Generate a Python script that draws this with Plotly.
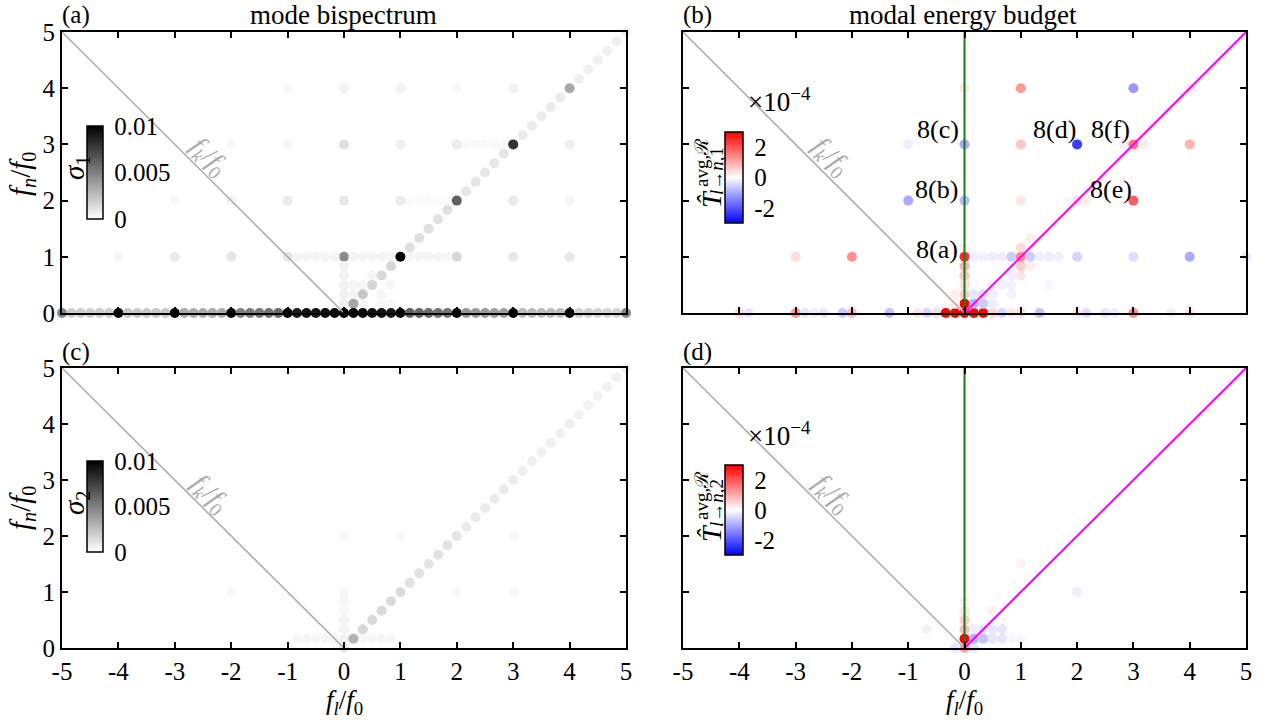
import plotly.graph_objects as go

W, H = 1268, 721
FONT = "Liberation Serif"
RES = 6  # frequency resolution: grid points at (k/6, j/6) in units of f0

# ================= (a) sigma_1  (units of 1e-3) =================
a_row0_k = list(range(-30, 31))
a_row0_val = [4.7, 2.0, 2.0, 2.0, 2.0, 2.0, 12,
              2.2, 2.2, 2.2, 2.2, 2.2, 12,
              3.3, 3.3, 3.3, 3.3, 3.3, 12,
              5.0, 5.2, 5.3, 5.5, 5.8, 12,
              9.0, 9.2, 9.3, 9.5, 9.7, 12,
              9.7, 9.5, 9.3, 9.2, 9.0, 12,
              6.2, 6.0, 5.8, 5.6, 5.4, 12,
              4.2, 4.0, 4.0, 3.8, 3.8, 12,
              2.7, 2.7, 2.6, 2.6, 2.6, 12,
              1.9, 1.9, 1.8, 1.8, 1.8, 4.7]
a_diag_j = list(range(1, 31))
a_diag_val = [3.5, 2.2, 1.6, 1.5, 1.6, 10.5,
              1.2, 1.2, 1.2, 1.2, 1.2, 6.2,
              1.0, 1.0, 1.0, 1.0, 1.0, 8.0,
              0.8, 0.8, 0.8, 0.8, 0.8, 3.4,
              0.6, 0.6, 0.6, 0.6, 0.6, 0.6]
a_pts_k = [-24, -18, -12, -6, 0, 12, 18, 24,
           -5, -4, -3, -2, -1, 1, 2, 3, 4, 5, 7, 8, 9, 10, 11,
           -18, -12, -6, 0, 6, 18, 24, 7, 8, 9, 10, 11,
           -12, -6, 0, 6, 12, 24, 13, 14, 15, 16, 17,
           -6, 0, 6, 12, 18,
           0, 0, 0, 0, 0, 1, 2, 3, 1, 2, 4, 5, 4, 5]
a_pts_j = [6, 6, 6, 6, 6, 6, 6, 6,
           6, 6, 6, 6, 6, 6, 6, 6, 6, 6, 6, 6, 6, 6, 6,
           12, 12, 12, 12, 12, 12, 12, 12, 12, 12, 12, 12,
           18, 18, 18, 18, 18, 18, 18, 18, 18, 18, 18,
           24, 24, 24, 24, 24,
           1, 2, 3, 4, 5, 2, 3, 4, 3, 1, 1, 1, 2, 3]
a_pts_val = [0.4, 0.8, 1.0, 1.0, 4.5, 1.6, 0.9, 0.9,
             0.35, 0.35, 0.35, 0.35, 0.35, 0.4, 0.4, 0.4, 0.4, 0.4, 0.35, 0.35, 0.35, 0.35, 0.35,
             0.3, 0.5, 0.8, 0.9, 0.8, 0.8, 0.4, 0.2, 0.2, 0.2, 0.2, 0.2,
             0.3, 0.4, 1.2, 0.6, 0.7, 0.6, 0.25, 0.25, 0.25, 0.25, 0.25,
             0.3, 0.5, 0.5, 0.3, 0.5,
             0.6, 0.5, 0.5, 0.5, 0.5, 0.4, 0.4, 0.4, 0.4, 0.4, 0.3, 0.3, 0.3, 0.3]

# ================= (c) sigma_2  (units of 1e-3) =================
c_diag_j = list(range(1, 31))
c_diag_val = [3.0, 1.5, 1.5, 1.5, 1.5, 1.4,
              1.2, 1.1, 1.1, 1.1, 1.1, 1.0,
              0.8, 0.8, 0.8, 0.8, 0.8, 0.7,
              0.6, 0.6, 0.6, 0.6, 0.6, 0.6,
              0.5, 0.5, 0.5, 0.5, 0.5, 0.5]
c_pts_k = [0, 0, 0, 0, 0, 0, 0, -5, -4, -3, -2, -1, 2, 3, 4, 5, 6, 12, 0, 18, 18, -12, 12]
c_pts_j = [0, 1, 2, 3, 4, 5, 6, 1, 1, 1, 1, 1, 1, 1, 1, 1, 12, 6, 12, 12, 6, 6, 12]
c_pts_val = [1.0, 0.5, 0.45, 0.4, 0.35, 0.35, 0.35, 0.3, 0.3, 0.3, 0.35, 0.35, 0.35, 0.3, 0.3, 0.3,
             0.3, 0.3, 0.3, 0.3, 0.3, 0.3, 0.3]

# ================= (b) T_{l->n,1}  (units of 1e-4) =================
b_k = [-24, -23, -18, -17, -16, -15, -13, -12, -8, -5, -4, -3, -2, -1, 0, 1, 2, 3, 4, 5,
       6, 8, 12, 13, 15, 16, 18, 22, 24,
       0, 1, 2, 3, -1,
       0, 1, 2, 3, 5, -1,
       0, 3, 4, 5, 9,
       0, 5, 6,
       0, 6, 7,
       -18, -12, 0, 1, 2, 3, 4, 5, 6, 7, 8, 9, 10, 12, 18, 24, 30,
       6, 0, 7,
       -6, 0, 6, 12, 11, 13, 18,
       -6, 0, 6, 12, 17, 18, 19, 24,
       0, 6, 18, 24]
b_j = [0, 0, 0, 0, 0, 0, 0, 0, 0, 0, 0, 0, 0, 0, 0, 0, 0, 0, 0, 0,
       0, 0, 0, 0, 0, 0, 0, 0, 0,
       1, 1, 1, 1, 1,
       2, 2, 2, 2, 2, 2,
       3, 3, 3, 3, 3,
       4, 4, 4,
       5, 5, 5,
       6, 6, 6, 6, 6, 6, 6, 6, 6, 6, 6, 6, 6, 6, 6, 6, 6,
       7, 7, 8,
       12, 12, 12, 12, 12, 12, 12,
       18, 18, 18, 18, 18, 18, 18, 18,
       24, 24, 24, 24]
b_val = [0.4, -0.3, 1.2, -0.3, -0.2, -0.3, -0.6, 0.8, -0.7, 0.3, -0.5, 0.4, 3.0, 3.0, 3.0, 3.0, 3.0, 0.5, -0.5, 0.3,
         0.4, -0.7, 0.3, -0.4, -0.3, -0.2, 1.3, -0.2, 0.3,
         3.0, -0.9, -0.6, -0.2, 0.2,
         0.6, -0.3, -0.4, -0.2, -0.15, 0.2,
         0.4, -0.2, -0.2, -0.15, -0.1,
         0.7, -0.2, 0.3,
         0.9, 0.6, 0.2,
         0.4, 1.3, 2.5, -0.15, -0.15, -0.2, -0.2, -0.6, 1.4, -0.6, -0.2, -0.2, -0.15, -0.5, -0.4, -1.0, -0.25,
         0.4, 0.2, 0.2,
         -1.0, -0.8, 0.3, 0.4, -0.1, 0.2, 1.9,
         -0.2, -1.0, 0.7, -2.3, -0.15, 1.6, 0.2, 0.9,
         0.3, 1.2, -1.2, 0.3]

# ================= (d) T_{l->n,2}  (units of 1e-4) =================
d_k = [0, -1, 1, 0, 0, 0, 0, 0, 1, 2, 3, 4, 5, 2, 3, 4, -4, 1, 3, 12, 6, 6]
d_j = [0, 0, 0, 1, 2, 3, 4, 5, 1, 1, 1, 1, 1, 2, 2, 2, 2, 2, 4, 6, 1, 9]
d_val = [1.0, -0.3, -0.3, 3.0, 0.8, 0.6, 0.3, 0.2, -0.9, -0.7, -0.3, -0.3, -0.1, -0.3, -0.3, -0.3,
         -0.15, -0.2, 0.15, -0.2, -0.1, 0.15]

# reference lines (f_k = 0 line, f_n = f_l line, f_l = 0 line)
fk_line_x, fk_line_y = [-5, 0], [5, 0]
diag_line_x, diag_line_y = [0, 5], [0, 5]
vert_line_x, vert_line_y = [0, 0], [0, 5]

x_ticks = [-5, -4, -3, -2, -1, 0, 1, 2, 3, 4, 5]
x_ticktext = ["-5", "-4", "-3", "-2", "-1", "0", "1", "2", "3", "4", "5"]
y_ticks = [0, 1, 2, 3, 4, 5]

fig = go.Figure()


def dots(k, j, v, xa, ya, cax):
    return go.Scatter(x=[kk / RES for kk in k], y=[jj / RES for jj in j], mode="markers",
                      xaxis=xa, yaxis=ya, cliponaxis=False, hoverinfo="skip", showlegend=False,
                      marker=dict(size=10, color=v, coloraxis=cax, line=dict(width=0)))


def line(xs, ys, xa, ya, color, width):
    return go.Scatter(x=xs, y=ys, mode="lines", xaxis=xa, yaxis=ya, hoverinfo="skip",
                      showlegend=False, line=dict(color=color, width=width))


# panel (a)
fig.add_trace(dots(a_pts_k, a_pts_j, a_pts_val, "x", "y", "coloraxis"))
fig.add_trace(dots(a_diag_j, a_diag_j, a_diag_val, "x", "y", "coloraxis"))
fig.add_trace(dots(a_row0_k, [0] * len(a_row0_k), a_row0_val, "x", "y", "coloraxis"))
fig.add_trace(line(fk_line_x, fk_line_y, "x", "y", "#aaaaaa", 1.5))
# panel (b)
fig.add_trace(dots(b_k, b_j, b_val, "x2", "y2", "coloraxis2"))
fig.add_trace(line(fk_line_x, fk_line_y, "x2", "y2", "#aaaaaa", 1.5))
fig.add_trace(line(vert_line_x, vert_line_y, "x2", "y2", "#168016", 2))
fig.add_trace(line(diag_line_x, diag_line_y, "x2", "y2", "#ff00ff", 2))
# panel (c)
fig.add_trace(dots(c_pts_k, c_pts_j, c_pts_val, "x3", "y3", "coloraxis3"))
fig.add_trace(dots(c_diag_j, c_diag_j, c_diag_val, "x3", "y3", "coloraxis3"))
fig.add_trace(line(fk_line_x, fk_line_y, "x3", "y3", "#aaaaaa", 1.5))
# panel (d)
fig.add_trace(dots(d_k, d_j, d_val, "x4", "y4", "coloraxis4"))
fig.add_trace(line(fk_line_x, fk_line_y, "x4", "y4", "#aaaaaa", 1.5))
fig.add_trace(line(vert_line_x, vert_line_y, "x4", "y4", "#168016", 2))
fig.add_trace(line(diag_line_x, diag_line_y, "x4", "y4", "#ff00ff", 2))

tickfont = dict(family=FONT, size=25, color="black")
axcommon = dict(showline=True, linecolor="black", linewidth=2, mirror="ticks", ticks="inside",
                ticklen=6, tickwidth=1.5, tickcolor="black", showgrid=False, zeroline=False,
                tickfont=tickfont, automargin=False)

XL = [62 / W, 626 / W]
XR = [683 / W, 1246 / W]
YT = [1 - 313 / H, 1 - 32 / H]
YB = [1 - 648 / H, 1 - 368 / H]


def xax(dom, anchor, labels):
    return dict(domain=dom, anchor=anchor, range=[-5, 5], tickvals=x_ticks, ticktext=x_ticktext,
                showticklabels=labels, **axcommon)


def yax(dom, anchor, labels):
    return dict(domain=dom, anchor=anchor, range=[0, 5], tickvals=y_ticks,
                showticklabels=labels, **axcommon)


gray_scale = [[0, "#ffffff"], [1, "#000000"]]
bwr_scale = [[0, "#0000ff"], [0.5, "#ffffff"], [1, "#ff0000"]]


def cbar(x0, top, length, thick, tickvals, ticktext):
    return dict(x=x0 / W, xanchor="left", y=1 - top / H, yanchor="top", len=length, lenmode="pixels",
                thickness=thick, thicknessmode="pixels", xpad=0, ypad=0, outlinewidth=1.5,
                outlinecolor="black", tickvals=tickvals, ticktext=ticktext, ticks="outside",
                ticklen=6, tickcolor="rgba(0,0,0,0)", tickfont=tickfont)


fig.update_layout(
    width=W, height=H, margin=dict(l=0, r=0, t=0, b=0),
    paper_bgcolor="white", plot_bgcolor="white", showlegend=False,
    xaxis=xax(XL, "y", False), yaxis=yax(YT, "x", True),
    xaxis2=xax(XR, "y2", False), yaxis2=yax(YT, "x2", False),
    xaxis3=xax(XL, "y3", True), yaxis3=yax(YB, "x3", True),
    xaxis4=xax(XR, "y4", True), yaxis4=yax(YB, "x4", False),
    coloraxis=dict(cmin=0, cmax=10, colorscale=gray_scale,
                   colorbar=cbar(87, 126, 93, 16, [0, 5, 10], ["0", "0.005", "0.01"])),
    coloraxis3=dict(cmin=0, cmax=10, colorscale=gray_scale,
                    colorbar=cbar(87, 461, 91, 16, [0, 5, 10], ["0", "0.005", "0.01"])),
    coloraxis2=dict(cmin=-3, cmax=3, colorscale=bwr_scale,
                    colorbar=cbar(725, 132, 91, 18, [-2, 0, 2], ["-2", "0", "2"])),
    coloraxis4=dict(cmin=-3, cmax=3, colorscale=bwr_scale,
                    colorbar=cbar(725, 465, 90, 18, [-2, 0, 2], ["-2", "0", "2"])),
)


def ann(text, x, y, size=25, color="black", angle=0, xanchor="center", yanchor="middle"):
    return dict(text=text, x=x / W, y=1 - y / H, xref="paper", yref="paper", showarrow=False,
                font=dict(family=FONT, size=size, color=color), textangle=angle,
                xanchor=xanchor, yanchor=yanchor)


annots = [
    ann("(a)", 60, 15, xanchor="left"),
    ann("mode bispectrum", 343, 15, size=27),
    ann("(b)", 681, 15, xanchor="left"),
    ann("modal energy budget", 963, 15, size=27),
    ann("(c)", 60, 352, xanchor="left"),
    ann("(d)", 681, 352, xanchor="left"),
    ann("<i>f<sub>n</sub></i>/<i>f</i><sub>0</sub>", 22, 174, size=29, angle=-90),
    ann("<i>f<sub>n</sub></i>/<i>f</i><sub>0</sub>", 22, 508, size=29, angle=-90),
    ann("<i>f<sub>l</sub></i>/<i>f</i><sub>0</sub>", 344, 702, size=27),
    ann("<i>f<sub>l</sub></i>/<i>f</i><sub>0</sub>", 964, 702, size=27),
    ann("<i>σ</i><sub>1</sub>", 76, 168, size=29, angle=-90),
    ann("<i>σ</i><sub>2</sub>", 76, 503, size=29, angle=-90),
    # stacked colorbar label for (b): T-hat with super- and subscripts
    ann("<i>T̂</i>", 711, 199, size=28, angle=-90),
    ann("avg,ℛ", 701, 163, size=19, angle=-90),
    ann("<i>l</i>→<i>n</i>,1", 716, 171, size=19, angle=-90),
    # same for (d)
    ann("<i>T̂</i>", 711, 533, size=28, angle=-90),
    ann("avg,ℛ", 701, 496, size=19, angle=-90),
    ann("<i>l</i>→<i>n</i>,2", 716, 503, size=19, angle=-90),
    ann("×10<sup>−4</sup>", 779, 100, size=27),
    ann("×10<sup>−4</sup>", 779, 434, size=27),
    ann("<i>f<sub>k</sub></i>/<i>f</i><sub>0</sub>", 208, 157, size=27, color="#aaaaaa", angle=45),
    ann("<i>f<sub>k</sub></i>/<i>f</i><sub>0</sub>", 830, 157, size=27, color="#aaaaaa", angle=45),
    ann("<i>f<sub>k</sub></i>/<i>f</i><sub>0</sub>", 209, 494, size=27, color="#aaaaaa", angle=45),
    ann("<i>f<sub>k</sub></i>/<i>f</i><sub>0</sub>", 831, 494, size=27, color="#aaaaaa", angle=45),
]

# figure-8 references in panel (b), in data coordinates
ref_labels = ["8(a)", "8(b)", "8(c)", "8(d)", "8(e)", "8(f)"]
ref_x = [-0.49, -0.49, -0.47, 1.59, 2.6, 2.6]
ref_y = [1.13, 2.19, 3.26, 3.26, 2.19, 3.26]
for t, xx, yy in zip(ref_labels, ref_x, ref_y):
    annots.append(dict(text=t, x=xx, y=yy, xref="x2", yref="y2", showarrow=False,
                       font=dict(family=FONT, size=26, color="black")))

fig.update_layout(annotations=annots)
fig.write_html("out.html", config={"displayModeBar": False},
               post_script="document.body.style.margin='0px';")
